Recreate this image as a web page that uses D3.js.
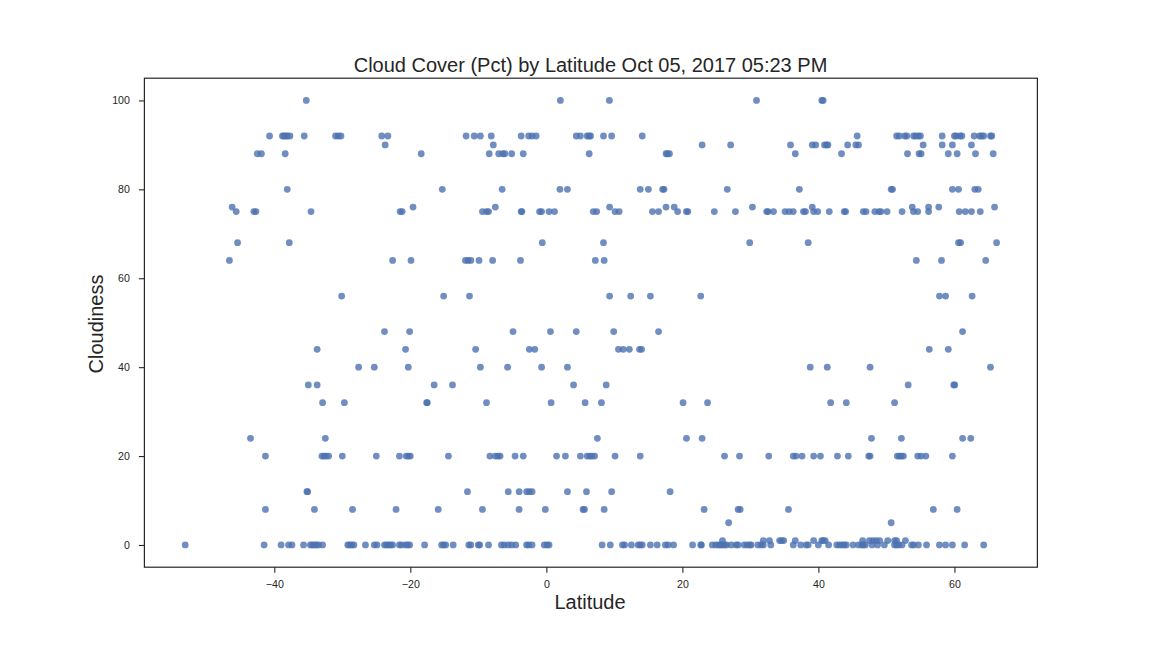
<!DOCTYPE html>
<html>
<head>
<meta charset="utf-8">
<script src="https://cdn.jsdelivr.net/npm/d3@7"></script>
<style>
    html, body { margin: 0; padding: 0; background: #fff; }
    svg { display: block; }
    text { font-family: "Liberation Sans", Arial, sans-serif; fill: #262626; }
</style>
</head>
<body>
<svg id="chart"></svg>
<script>
// Latitudes of the cities, grouped by their cloudiness value
const lat100 = [-35.3, 2.06, 9.27, 30.9, 40.5, 40.7];
const lat92 = [-40.7, -38.8, -38.6, -38.3, -38.1, -37.7, -35.6, -31.0, -30.6, -30.2, -24.2, -23.3, -11.8, -10.6, -9.7, -8.1, -3.7, -2.6, -2.1, -1.5, 4.4, 5.0, 6.0, 6.3, 6.5, 8.4, 9.6, 14.1, 45.7, 51.5, 51.9, 52.7, 53.0, 54.0, 54.3, 54.7, 55.0, 58.2, 60.0, 60.25, 60.8, 61.1, 62.9, 63.7, 64.0, 64.3, 65.3, 65.5];
const lat90 = [-23.7, -7.8, 22.9, 27.1, 35.9, 39.1, 39.6, 40.9, 41.2, 41.4, 44.3, 45.5, 45.9, 55.4, 58.2, 59.7, 62.5];
const lat88 = [-42.5, -41.9, -38.4, -18.4, -8.4, -7.0, -6.4, -6.1, -5.1, -3.4, 6.3, 17.6, 17.8, 18.1, 36.6, 43.4, 53.1, 54.8, 55.1, 59.1, 60.4, 63.1, 65.7];
const lat80 = [-38.1, -15.3, -6.5, 2.0, 3.1, 13.8, 15.0, 17.1, 17.3, 26.6, 37.2, 50.7, 50.9, 59.7, 60.6, 63.0, 63.5];
const lat76 = [-46.2, -19.6, -7.5, 9.3, 17.6, 18.8, 30.3, 39.1, 53.8, 56.2, 57.7, 65.9];
const lat75 = [-45.6, -43.0, -42.7, -34.6, -21.5, -21.2, -9.4, -8.8, -8.5, -3.7, -3.6, -1.0, -0.7, 0.4, 1.2, 6.9, 7.4, 10.1, 10.7, 15.6, 16.5, 19.3, 20.6, 20.8, 24.7, 27.8, 32.4, 32.6, 33.4, 35.1, 35.7, 36.3, 37.8, 38.1, 39.3, 39.9, 41.6, 43.8, 44.0, 46.6, 47.0, 48.3, 48.9, 49.2, 50.1, 52.3, 53.97, 54.6, 56.2, 60.7, 61.6, 62.5, 63.8];
const lat68 = [-45.4, -37.8, -0.6, 8.4, 29.9, 38.5, 60.6, 60.9, 66.2];
const lat64 = [-46.6, -22.6, -19.9, -11.9, -11.5, -11.1, -9.9, -7.9, -3.8, 7.2, 8.5, 54.4, 58.1, 64.6];
const lat56 = [-30.1, -15.1, -11.3, 9.3, 12.4, 15.3, 22.7, 57.8, 58.7, 62.6];
const lat48 = [-23.8, -20.1, -4.9, 0.6, 4.4, 9.9, 16.5, 61.2];
const lat44 = [-33.7, -20.7, -10.4, -2.5, -1.7, 10.6, 11.3, 12.2, 13.7, 14.0, 56.3, 59.1];
const lat40 = [-27.6, -25.3, -20.3, -9.7, -5.7, -0.7, 3.1, 38.8, 41.3, 47.6, 65.3];
const lat36 = [-35.0, -33.7, -16.5, -13.8, 4.0, 8.8, 53.2, 59.9, 60.05];
const lat32 = [-32.9, -29.7, -17.6, -17.5, -8.8, 0.7, 5.7, 8.1, 20.1, 23.7, 41.8, 44.1, 51.2];
const lat24 = [-43.5, -32.5, 7.5, 20.6, 22.9, 47.8, 52.2, 61.2, 62.4];
const lat20 = [-41.3, -33.0, -32.7, -32.4, -32.0, -30.0, -25.0, -21.6, -20.6, -20.3, -20.0, -14.4, -8.3, -7.5, -7.1, -6.8, -4.6, -3.4, 1.5, 2.8, 5.0, 6.0, 6.4, 6.7, 7.1, 10.1, 13.8, 26.2, 28.4, 32.7, 36.3, 36.7, 37.6, 39.3, 40.3, 42.8, 44.4, 47.4, 47.6, 51.6, 51.9, 52.2, 52.5, 54.6, 55.1, 55.8, 59.7];
const lat12 = [-35.2, -35.1, -11.6, -5.6, -4.0, -2.9, -2.5, -2.1, 3.1, 5.9, 9.6, 18.2];
const lat8 = [-41.3, -34.1, -28.5, -22.1, -15.9, -9.4, -4.0, -0.15, 5.4, 5.6, 8.5, 23.2, 28.2, 28.5, 35.6, 56.9, 60.4];
const lat5 = [26.8, 50.7];
const lat1 = [25.9, 31.9, 32.8, 34.3, 34.6, 34.9, 36.6, 39.3, 40.5, 40.7, 41.0, 46.5, 47.5, 48.0, 48.5, 49.0, 50.2, 51.2, 51.5, 52.8];
const lat0 = [-53.1, -41.5, -39.0, -37.9, -37.4, -35.7, -34.7, -34.4, -34.1, -33.8, -33.5, -32.9, -29.2, -28.9, -28.6, -28.3, -26.6, -25.3, -24.9, -23.8, -23.5, -23.2, -22.9, -22.6, -21.6, -21.3, -20.7, -20.4, -20.1, -17.9, -15.4, -15.1, -14.8, -13.7, -11.4, -11.1, -10.0, -9.8, -8.5, -6.6, -6.2, -5.6, -5.1, -4.5, -2.9, -2.6, -2.1, -0.3, 0.1, 0.4, 8.2, 9.4, 11.2, 11.5, 12.5, 13.5, 13.8, 14.1, 15.3, 16.3, 17.5, 17.9, 18.7, 21.5, 22.7, 22.8, 24.4, 24.9, 25.3, 25.6, 25.9, 26.2, 26.5, 27.2, 27.9, 28.2, 29.1, 29.5, 29.9, 30.1, 31.1, 31.6, 31.9, 33.0, 36.3, 37.4, 38.2, 38.5, 40.0, 41.5, 42.7, 43.1, 43.5, 43.8, 44.1, 45.1, 45.9, 46.4, 46.6, 46.9, 47.9, 48.7, 49.7, 51.2, 51.5, 51.8, 52.3, 53.7, 54.0, 54.7, 55.9, 57.8, 58.7, 59.7, 61.5, 64.3];

const cloudLevels = [100, 92, 90, 88, 80, 76, 75, 68, 64, 56, 48, 44, 40, 36, 32, 24, 20, 12, 8, 5, 1, 0];
const latsByLevel = [lat100, lat92, lat90, lat88, lat80, lat76, lat75, lat68, lat64, lat56, lat48, lat44, lat40, lat36, lat32, lat24, lat20, lat12, lat8, lat5, lat1, lat0];
const xTicks = [-40, -20, 0, 20, 40, 60];
const yTicks = [0, 20, 40, 60, 80, 100];

const titleText = "Cloud Cover (Pct) by Latitude Oct 05, 2017 05:23 PM";

const width = 1152;
const height = 648;
const margin = {top: 78.2, right: 114.6, bottom: 80.8, left: 144.4};

const svg = d3.select("#chart")
    .attr("width", width)
    .attr("height", height);

const x = d3.scaleLinear()
    .domain([-59.1, 72.2])
    .range([margin.left, width - margin.right]);

const y = d3.scaleLinear()
    .domain([-5, 105])
    .range([height - margin.bottom, margin.top]);

// Flatten the rows into points
const points = cloudLevels.flatMap((level, i) =>
    latsByLevel[i].map(lat => ({lat: lat, cloud: level})));

svg.append("g")
    .selectAll("circle")
    .data(points)
    .join("circle")
    .attr("cx", d => x(d.lat))
    .attr("cy", d => y(d.cloud))
    .attr("r", 3.4)
    .attr("fill", "#4c72b0")
    .attr("fill-opacity", 0.8);

// Axes
const xAxis = svg.append("g")
    .attr("transform", `translate(0,${height - margin.bottom})`)
    .call(d3.axisBottom(x).tickValues(xTicks).tickSize(5.5).tickPadding(8));

const yAxis = svg.append("g")
    .attr("transform", `translate(${margin.left},0)`)
    .call(d3.axisLeft(y).tickValues(yTicks).tickSize(5.5).tickPadding(9));

[xAxis, yAxis].forEach(axis => {
    axis.select(".domain").remove();
    axis.selectAll("line").attr("stroke", "#262626").attr("stroke-width", 1.1);
    axis.selectAll("text").style("font-size", "10.6px").attr("fill", "#262626");
});

// Frame
svg.append("rect")
    .attr("x", margin.left)
    .attr("y", margin.top)
    .attr("width", width - margin.left - margin.right)
    .attr("height", height - margin.top - margin.bottom)
    .attr("fill", "none")
    .attr("stroke", "#262626")
    .attr("stroke-width", 1.2);

svg.append("text")
    .attr("x", 590.5)
    .attr("y", 72)
    .attr("text-anchor", "middle")
    .style("font-size", "20px")
    .text(titleText);

svg.append("text")
    .attr("x", 590)
    .attr("y", 609)
    .attr("text-anchor", "middle")
    .style("font-size", "20px")
    .text("Latitude");

svg.append("text")
    .attr("transform", "translate(103,324) rotate(-90)")
    .attr("text-anchor", "middle")
    .style("font-size", "20px")
    .text("Cloudiness");
</script>
</body>
</html>
